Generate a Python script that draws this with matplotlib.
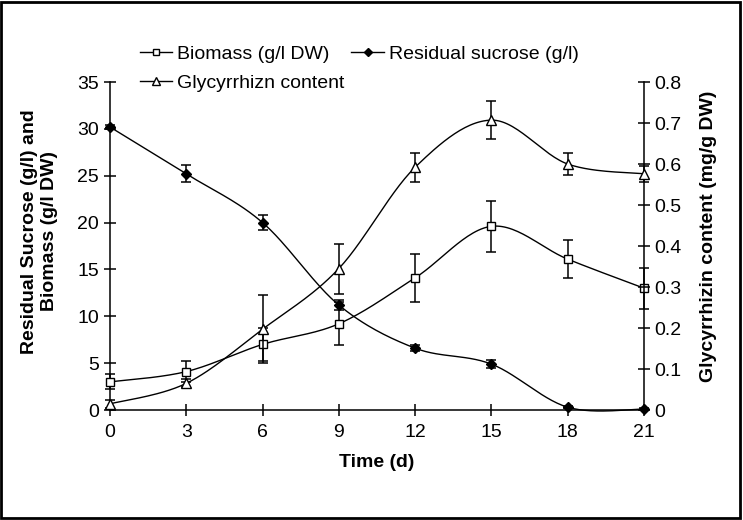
import numpy as np
import matplotlib.pyplot as plt
from matplotlib.patches import Rectangle

plt.rcParams['font.family'] = ['Liberation Sans', 'DejaVu Sans']

# данные
days = [0, 3, 6, 9, 12, 15, 18, 21]
biomass = [3.0, 4.1, 7.0, 9.2, 14.1, 19.6, 16.1, 13.0]
biomass_err = [0.8, 1.1, 1.8, 2.3, 2.6, 2.7, 2.0, 2.2]
sucrose = [30.2, 25.2, 20.0, 11.2, 6.6, 4.9, 0.3, 0.1]
sucrose_err = [0.2, 0.9, 0.8, 0.5, 0.3, 0.4, 0.1, 0.1]
glyc = [0.015, 0.065, 0.197, 0.345, 0.592, 0.707, 0.600, 0.576]
glyc_err = [0.01, 0.01, 0.083, 0.061, 0.035, 0.046, 0.028, 0.02]


def smooth(x, y, n=30):
    # сглаживание как в Excel (кубические Безье)
    p = np.column_stack([x, y]).astype(float)
    pts = np.vstack([p[0], p, p[-1]])
    out = []
    t = np.linspace(0, 1, n)[:, None]
    for i in range(1, len(pts) - 2):
        p0, p1 = pts[i], pts[i + 1]
        c1 = p0 + (pts[i + 1] - pts[i - 1]) / 6
        c2 = p1 - (pts[i + 2] - pts[i]) / 6
        seg = ((1 - t) ** 3) * p0 + 3 * ((1 - t) ** 2) * t * c1 + 3 * (1 - t) * t ** 2 * c2 + t ** 3 * p1
        out.append(seg)
    out = np.vstack(out)
    return out[:, 0], out[:, 1]


fig = plt.figure(figsize=(7.43, 5.20), dpi=100)
ax = fig.add_axes([0.148, 0.2115, 0.7187, 0.6308])
ax2 = ax.twinx()

lw = 1.0
cap = 3.5

sx, sy = smooth(days, biomass)
ax.plot(sx, sy, color='black', lw=lw, clip_on=False)
ax.errorbar(days, biomass, yerr=biomass_err, fmt='none', ecolor='black', elinewidth=1.1, capsize=cap, capthick=1.1, clip_on=False)
ax.plot(days, biomass, ls='none', marker='s', ms=5.5, mfc='white', mec='black', mew=1.0, clip_on=False, zorder=5)

sx, sy = smooth(days, sucrose)
ax.plot(sx, sy, color='black', lw=lw, clip_on=False)
ax.errorbar(days, sucrose, yerr=sucrose_err, fmt='none', ecolor='black', elinewidth=1.1, capsize=cap, capthick=1.1, clip_on=False)
ax.plot(days, sucrose, ls='none', marker='D', ms=5, mfc='black', mec='black', clip_on=False, zorder=5)

sx, sy = smooth(days, glyc)
ax2.plot(sx, sy, color='black', lw=lw, clip_on=False)
ax2.errorbar(days, glyc, yerr=glyc_err, fmt='none', ecolor='black', elinewidth=1.1, capsize=cap, capthick=1.1, clip_on=False)
ax2.plot(days, glyc, ls='none', marker='^', ms=6.5, mfc='white', mec='black', mew=1.0, clip_on=False, zorder=5)

ax.set_xlim(0, 21)
ax.set_ylim(0, 35)
ax2.set_ylim(0, 0.8)
ax.set_xticks(days)
ax.set_yticks(range(0, 36, 5))
ax2.set_yticks(np.arange(0, 0.81, 0.1))
ax2.set_yticklabels(['0', '0.1', '0.2', '0.3', '0.4', '0.5', '0.6', '0.7', '0.8'])

for a in (ax, ax2):
    a.spines['top'].set_visible(False)
    for s in a.spines.values():
        s.set_linewidth(1.1)
    a.tick_params(direction='inout', length=8.5, width=1.1, labelsize=14, pad=3.5)
ax.tick_params(axis='x', pad=6)
ax.spines['right'].set_visible(False)
ax2.spines['left'].set_visible(False)
ax2.spines['bottom'].set_visible(False)

ax.set_xlabel('Time (d)', fontsize=14, fontweight='bold', labelpad=9)
ax.set_ylabel('Residual Sucrose (g/l) and\nBiomass (g/l DW)', fontsize=14, fontweight='bold', linespacing=1.25)
ax.yaxis.set_label_coords(-0.097, 0.545)
ax2.set_ylabel('Glycyrrhizin content (mg/g DW)', fontsize=14, fontweight='bold')
ax2.yaxis.set_label_coords(1.105, 0.53)

# легенда
h1, = ax.plot([], [], color='black', lw=1, marker='s', ms=5, mfc='white', mec='black')
h2, = ax.plot([], [], color='black', lw=1, marker='D', ms=4.5, mfc='black', mec='black')
h3, = ax.plot([], [], color='black', lw=1, marker='^', ms=5.5, mfc='white', mec='black')
fig.legend([h1, h3, h2], ['Biomass (g/l DW)', 'Glycyrrhizn content', 'Residual sucrose (g/l)'],
           ncol=2, loc='upper left', bbox_to_anchor=(0.1884, 0.9127), frameon=False,
           fontsize=14, handlelength=1.65, handletextpad=0.26, columnspacing=0.36, labelspacing=0.6,
           borderpad=0, borderaxespad=0)

fig.patches.append(Rectangle((0.002, 0.003), 0.994, 0.994, transform=fig.transFigure,
                             fill=False, edgecolor='black', lw=2))

plt.savefig('out.png', dpi=100)
